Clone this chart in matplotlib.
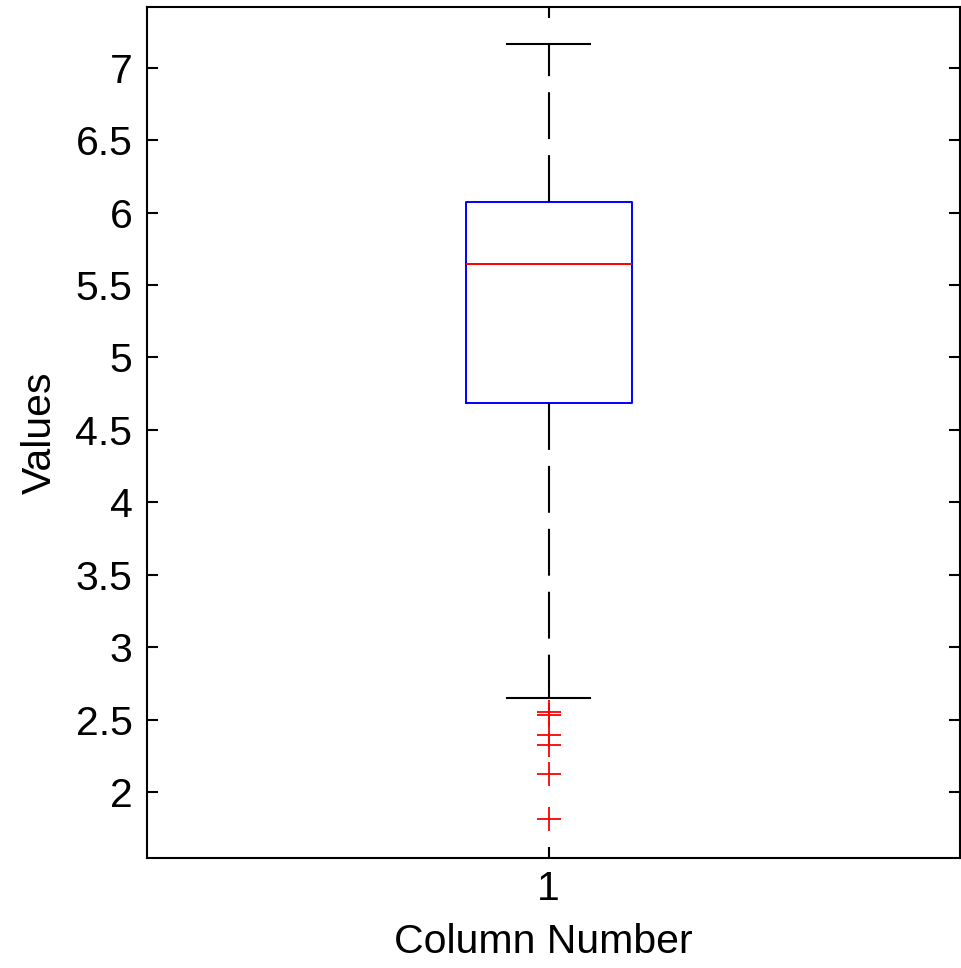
import matplotlib
matplotlib.use("Agg")
import matplotlib.pyplot as plt
from matplotlib.ticker import FuncFormatter

# box statistics
column = [1]
q1 = [4.684]
median = [5.643]
q3 = [6.075]
whisker_low = [2.652]
whisker_high = [7.166]
outliers = [[2.556, 2.533, 2.395, 2.326, 2.126, 1.817]]

y_ticks = [2, 2.5, 3, 3.5, 4, 4.5, 5, 5.5, 6, 6.5, 7]

plt.rcParams['font.family'] = ['Liberation Sans', 'DejaVu Sans']

fig = plt.figure(figsize=(9.62, 9.68), dpi=100)
ax = fig.add_axes([147 / 962, 110 / 968, 813 / 962, 851 / 968])

stats = []
for i in range(len(column)):
    stats.append({
        'med': median[i], 'q1': q1[i], 'q3': q3[i],
        'whislo': whisker_low[i], 'whishi': whisker_high[i],
        'fliers': outliers[i], 'label': str(column[i]),
    })

ax.bxp(stats, positions=column, widths=0.2066, showfliers=True,
       boxprops=dict(color='#0000ff', linewidth=1.4),
       medianprops=dict(color='#ff0000', linewidth=1.4),
       whiskerprops=dict(color='black', linewidth=1.5, linestyle=(0, (22.5, 7.7))),
       capprops=dict(color='black', linewidth=1.5),
       flierprops=dict(marker='+', markeredgecolor='#ff0000', markersize=17,
                       markeredgewidth=1.3, linestyle='none'))

ax.set_xlim(0.5, 1.512)
ax.set_ylim(1.545, 7.419)
ax.set_yticks(y_ticks)
ax.yaxis.set_major_formatter(FuncFormatter(lambda v, p: f'{v:g}'))
ax.set_xticks(column)
ax.set_xticklabels([str(c) for c in column])

for s in ax.spines.values():
    s.set_linewidth(1.5)
ax.tick_params(direction='in', length=8, width=1.5, top=True, right=True,
               labelsize=29.5, colors='black')
ax.tick_params(axis='y', pad=10.5)
ax.tick_params(axis='x', pad=8.5)

ax.set_xlabel('Column Number', fontsize=29.5)
ax.set_ylabel('Values', fontsize=29.5)
ax.xaxis.set_label_coords(0.4877, -0.076)
ax.yaxis.set_label_coords(-0.108, 0.5)

fig.savefig('out.png', dpi=100)
